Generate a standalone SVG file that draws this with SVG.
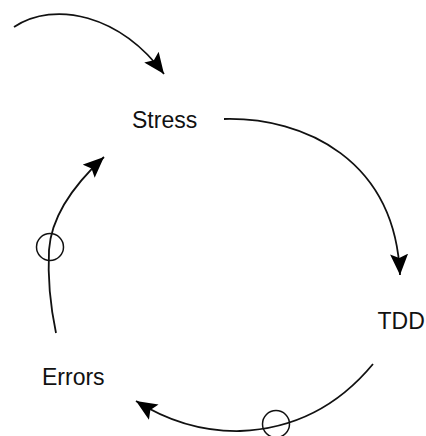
<svg xmlns="http://www.w3.org/2000/svg" width="426" height="436" viewBox="0 0 426 436">
  <defs>
    <marker id="arrow" markerUnits="userSpaceOnUse" markerWidth="24" markerHeight="20" viewBox="0 0 24 20" refX="21" refY="9" orient="auto">
      <path d="M0,0 L21,9 L0,18 L4,9 Z" fill="#000"/>
    </marker>
  </defs>
  <style>
    .label { font-family: "Liberation Sans", Arial, sans-serif; font-size: 23px; fill: #111; }
    .link { fill: none; stroke: #111; stroke-width: 1.8; }
    .link.arrow { marker-end: url(#arrow); }
    .neg { fill: none; stroke: #111; stroke-width: 1.5; }
  </style>
  <rect width="426" height="436" fill="#fff"/>
  <g id="connectors">
    <path class="link arrow" d="M14,27 C55,0 120,15 164,74"/>
    <path class="link arrow" d="M224,119 C305,117 395,160 400,275"/>
    <path class="link arrow" d="M373,364 Q320,428 240,431 Q185,432 136,401"/>
    <circle class="neg" cx="276" cy="424" r="13.5"/>
    <path class="link arrow" d="M56,333 Q47,290 49,250 Q52,205 104,157"/>
    <circle class="neg" cx="50" cy="247" r="13.5"/>
  </g>
  <g id="node-stress">
    <text class="label" x="132" y="127.5">Stress</text>
  </g>
  <g id="node-tdd">
    <text class="label" x="377.5" y="329">TDD</text>
  </g>
  <g id="node-errors">
    <text class="label" x="42" y="385">Errors</text>
  </g>
</svg>
